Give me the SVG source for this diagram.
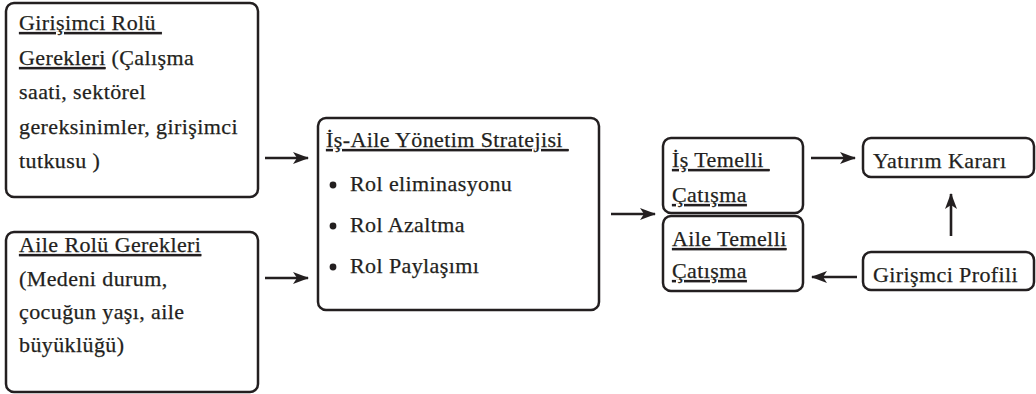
<svg xmlns="http://www.w3.org/2000/svg" width="1036" height="394" viewBox="0 0 1036 394">
<style>
.box{fill:#fff;stroke:#231f20;stroke-width:2.5}
.t{font-family:'Liberation Serif','Times New Roman',serif;font-size:22px;letter-spacing:0.4px;fill:#231f20;stroke:#231f20;stroke-width:0.25;white-space:pre}
.u{text-decoration:underline}
.c{stroke:#231f20;stroke-width:2.6;fill:none}
</style>
<defs>
<marker id="ah" markerWidth="16" markerHeight="12" refX="15" refY="6" orient="auto" markerUnits="userSpaceOnUse">
<path d="M0,0 L16,6 L0,12 L4,6 Z" fill="#231f20"/>
</marker>
</defs>
<rect width="1036" height="394" fill="#fff"/>
<g id="connectors">
<line class="c" x1="265" y1="158" x2="308" y2="158" marker-end="url(#ah)"/>
<line class="c" x1="265" y1="278" x2="308" y2="278" marker-end="url(#ah)"/>
<line class="c" x1="611" y1="214" x2="655" y2="214" marker-end="url(#ah)"/>
<line class="c" x1="811" y1="158" x2="855" y2="158" marker-end="url(#ah)"/>
<line class="c" x1="951" y1="236" x2="951" y2="194" marker-end="url(#ah)"/>
<line class="c" x1="857" y1="277" x2="812" y2="277" marker-end="url(#ah)"/>
</g>
<g id="n1">
<rect class="box" x="6" y="3" width="252" height="194" rx="8"/>
<text class="t" x="19" y="30" xml:space="preserve"><tspan class="u">Girişimci Rolü </tspan></text>
<text class="t" x="19" y="65"><tspan class="u">Gerekleri</tspan> (Çalışma</text>
<text class="t" x="19" y="99">saati, sektörel</text>
<text class="t" x="19" y="134">gereksinimler, girişimci</text>
<text class="t" x="19" y="168">tutkusu )</text>
</g>
<g id="n2">
<rect class="box" x="6" y="232" width="252" height="160" rx="8"/>
<text class="t" x="19" y="252"><tspan class="u">Aile Rolü Gerekleri</tspan></text>
<text class="t" x="19" y="286">(Medeni durum,</text>
<text class="t" x="19" y="319">çocuğun yaşı, aile</text>
<text class="t" x="19" y="352">büyüklüğü)</text>
</g>
<g id="n3">
<rect class="box" x="318" y="118" width="281" height="192" rx="8"/>
<text class="t" x="326" y="147" xml:space="preserve"><tspan class="u">İş-Aile Yönetim Stratejisi </tspan></text>
<circle cx="333" cy="185" r="3.4" fill="#231f20"/>
<text class="t" x="350" y="191">Rol eliminasyonu</text>
<circle cx="333" cy="226" r="3.4" fill="#231f20"/>
<text class="t" x="350" y="232">Rol Azaltma</text>
<circle cx="333" cy="267" r="3.4" fill="#231f20"/>
<text class="t" x="350" y="273">Rol Paylaşımı</text>
</g>
<g id="n4">
<rect class="box" x="663" y="138" width="140" height="75" rx="8"/>
<text class="t" x="672" y="167" xml:space="preserve"><tspan class="u">İş Temelli </tspan></text>
<text class="t" x="672" y="202"><tspan class="u">Çatışma</tspan></text>
</g>
<g id="n5">
<rect class="box" x="663" y="216" width="140" height="75" rx="8"/>
<text class="t" x="672" y="246"><tspan class="u">Aile Temelli</tspan></text>
<text class="t" x="672" y="278"><tspan class="u">Çatışma</tspan></text>
</g>
<g id="n6">
<rect class="box" x="863" y="138" width="171" height="39" rx="8"/>
<text class="t" x="873" y="168">Yatırım Kararı</text>
</g>
<g id="n7">
<rect class="box" x="863" y="252" width="171" height="38" rx="8"/>
<text class="t" x="873" y="282">Girişmci Profili</text>
</g>
</svg>
